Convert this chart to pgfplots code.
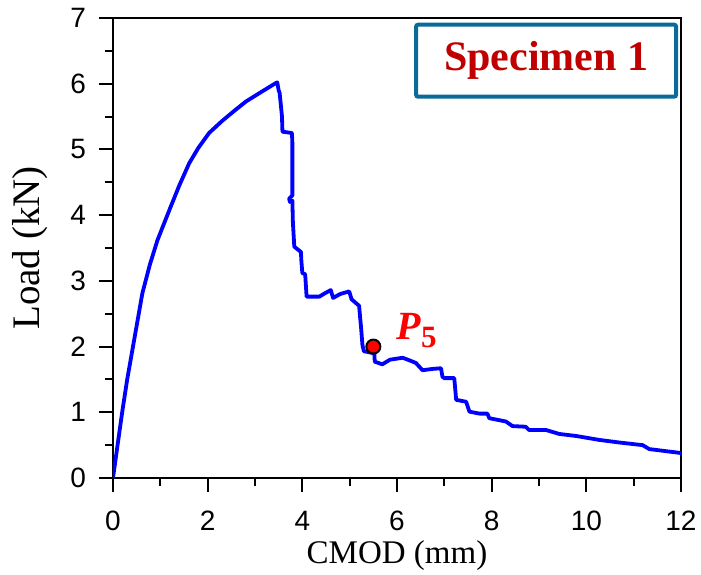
\documentclass[border=0pt]{standalone}
\usepackage{fontspec}
\setmainfont{Liberation Serif}
\newfontfamily\arial{Liberation Sans}
\usepackage{pgfplots}
\pgfplotsset{compat=1.18}
\usetikzlibrary{calc}
\definecolor{curveblue}{HTML}{0000FF}
\definecolor{boxblue}{HTML}{0A6A9A}
\definecolor{specred}{HTML}{C00000}

\begin{document}
\begin{tikzpicture}
\begin{axis}[
  scale only axis,
  width=284pt, height=230pt,
  xmin=0, xmax=12, ymin=0, ymax=7,
  xtick={0,2,...,12}, ytick={0,1,...,7},
  minor x tick num=1, minor y tick num=1,
  xtick pos=left, ytick pos=left,
  tick align=outside,
  major tick length=7pt, minor tick length=4pt,
  every tick/.style={black, line width=1pt},
  axis line style={black, line width=1.2pt},
  /pgf/number format/assume math mode=true,
  tick label style={font=\arial\fontsize{14}{16}\selectfont},
  xticklabel style={yshift=-6pt},
  yticklabel style={xshift=-3pt},
  xlabel={CMOD (mm)},
  ylabel={Load (kN)},
  xlabel style={font=\fontsize{16.5}{18}\selectfont,
    at={(axis description cs:0.5,-0.168)}, anchor=center},
  ylabel style={font=\fontsize{19.5}{21}\selectfont,
    at={(axis description cs:-0.146,0.5)}, anchor=center},
]
\addplot[curveblue, line width=1.9pt, line join=round] coordinates {
(0,0)(0.1,0.52)(0.2,1.03)(0.3,1.5)(0.41,1.95)(0.52,2.4)(0.62,2.81)(0.78,3.25)
(0.94,3.62)(1.22,4.13)(1.4,4.45)(1.61,4.79)(1.8,5.02)(2.03,5.25)(2.3,5.43)
(2.55,5.58)(2.81,5.73)(3.1,5.86)(3.44,6.01)(3.47,6.02)(3.5,5.9)(3.52,5.86)
(3.55,5.65)(3.57,5.5)(3.58,5.27)(3.78,5.25)(3.79,5.1)(3.79,4.3)(3.72,4.25)
(3.74,4.2)(3.79,4.22)(3.8,3.9)(3.83,3.52)(3.9,3.48)(3.97,3.44)(3.98,3.3)
(4.0,3.12)(4.06,3.1)(4.09,2.76)(4.36,2.76)(4.45,2.8)(4.6,2.86)(4.65,2.74)
(4.8,2.8)(4.99,2.84)(5.04,2.72)(5.2,2.62)(5.22,2.45)(5.24,2.3)(5.27,2.02)
(5.3,1.93)(5.5,1.9)(5.52,1.9)(5.53,1.77)(5.69,1.73)(5.85,1.8)(6.12,1.83)
(6.3,1.78)(6.4,1.75)(6.54,1.64)(6.75,1.66)(6.93,1.67)(6.96,1.54)(7.0,1.52)
(7.21,1.52)(7.25,1.19)(7.46,1.16)(7.53,1.01)(7.74,0.98)(7.91,0.98)(7.95,0.91)
(8.3,0.86)(8.44,0.79)(8.72,0.78)(8.79,0.73)(9.15,0.73)(9.43,0.67)(9.78,0.64)
(10.27,0.58)(10.7,0.54)(11.19,0.5)(11.33,0.44)(12,0.38)};
\addplot[only marks, mark=*, mark size=3.5pt,
  mark options={fill=red, draw=black, line width=1pt}] coordinates {(5.5,2.0)};
\node[anchor=west, text=red, font=\fontsize{20}{22}\selectfont\bfseries, inner sep=0pt]
  at (axis cs:5.98,2.24) {\textit{P}\raisebox{-0.45ex}{\fontsize{15.5}{17}\selectfont 5}};
\node[draw=boxblue, line width=2pt, rounded corners=1pt, fill=white,
  minimum width=130pt, minimum height=36pt, text=specred,
  font=\fontsize{21}{23}\selectfont\bfseries]
  at (axis cs:9.15,6.35) {Specimen 1};
\end{axis}
\pgfresetboundingbox
\path ($(current axis.south west)+(-56.5pt,-48pt)$) rectangle ($(current axis.north east)+(10pt,9pt)$);
\end{tikzpicture}
\end{document}
